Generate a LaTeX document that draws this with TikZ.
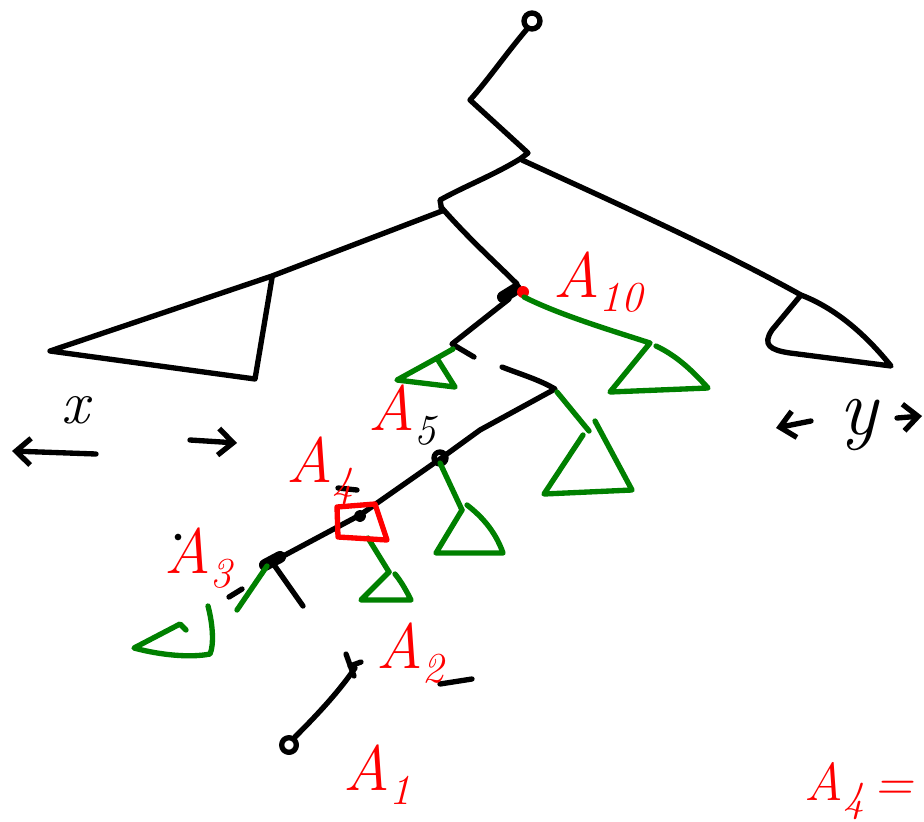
\documentclass[tikz,border=0pt]{standalone}
\usepackage{fontspec}
\usepackage{tikz}
\usetikzlibrary{arrows.meta}
\usepackage{xcolor}
\definecolor{penGreen}{RGB}{0,128,0}
\definecolor{penRed}{RGB}{255,0,0}
\newcommand{\lowsub}[1]{\raisebox{-0.22em}{\fontsize{32}{32}\selectfont #1}}

\begin{document}
\begin{tikzpicture}[x=0.75pt,y=0.75pt,yscale=-1,xscale=1,
  pen/.style={line width=4pt,line cap=round,line join=round},
  gpen/.style={pen,color=penGreen},
  rpen/.style={pen,color=penRed},
  barb/.style={pen,-{Straight Barb[length=11pt,width=20pt]}},
  lbl/.style={anchor=base west,inner sep=0pt,color=penRed,font=\fontsize{48}{48}\selectfont\itshape},
  var/.style={inner sep=0pt,font=\fontsize{46}{46}\selectfont\itshape}]
\useasboundingbox (0,0) rectangle (924,821);
\clip (0,0) rectangle (924,821);

%Root and trunk
\draw [pen] (532,21) circle (6pt);
\draw [pen] (527,29) .. controls (505,55) and (488,80) .. (470,100) -- (528,153) -- (520,159) .. controls (492,176) and (465,186) .. (440,200) -- (442,211) -- (272,276) -- (50,351) -- (255,379) -- (272,278);
%Right subtree
\draw [pen] (522,160) .. controls (620,205) and (720,250) .. (801,295) -- (772,330) .. controls (762,345) and (770,350) .. (790,353) -- (891,366) .. controls (870,340) and (840,310) .. (801,295);
%Middle branch down to A10
\draw [pen] (441,207) .. controls (470,240) and (495,262) .. (517,284);
\draw [pen,line width=9pt] (503,297) -- (516,289);
\fill [penRed] (523,292) circle (4.5pt);
\draw [pen] (509,299) -- (452,344) -- (474,357);
%Spine
\draw [pen] (502,367) .. controls (520,374) and (540,380) .. (555,389) -- (480,430) -- (440,459) -- (360,515) -- (272,562) -- (303,606);
\draw [pen] (440,458) circle (4.5pt);
\draw [pen] (360,516) circle (2.5pt);
\draw [pen,line width=9pt] (265,565) -- (280,557);

%Green subtrees
\draw [gpen] (524,297) .. controls (560,315) and (610,330) .. (650,343) -- (610,392) -- (708,388) .. controls (690,368) and (675,355) .. (656,346);
\draw [gpen] (453,349) .. controls (430,362) and (415,370) .. (397,380) -- (455,387) -- (438,360);
\draw [gpen] (557,392) -- (589,431);
\draw [gpen] (583,435) -- (544,494) -- (632,490) -- (595,421);
\draw [gpen] (440,463) -- (462,510);
\draw [gpen] (462,510) -- (436,553) -- (503,553) .. controls (495,530) and (480,515) .. (467,505);
\draw [gpen] (368,538) -- (389,572);
\draw [gpen] (389,572) -- (361,600) -- (411,600) .. controls (405,588) and (400,580) .. (395,574);
\draw [gpen] (267,566) -- (237,610);
\draw [gpen] (208,606) .. controls (213,625) and (214,645) .. (210,654) .. controls (190,658) and (160,655) .. (134,648) -- (180,624) -- (186,630);

%Red box
\draw [rpen] (337,507) -- (375,504) -- (387,540) -- (338,537) -- cycle;

%Lower node
\draw [pen] (289,745) circle (5.5pt);
\draw [pen] (295,737) .. controls (320,712) and (340,690) .. (355,668);
\draw [pen] (346,654) -- (354,676);
\draw [pen] (350,666) -- (361,662);

%Small strokes
\draw [pen] (440,684) -- (472,679);
\draw [pen] (229,597) -- (242,589);
\draw [pen] (338,488) -- (357,490);
\fill (178,537) circle (2.5pt);

%Arrows
\draw [barb] (96,454) -- (12,451);
\draw [barb] (190,440) -- (237,443);
\draw [barb] (811,421) -- (776,428);
\draw [barb] (897,418) -- (922,416);

% Text Node
\node [var] (xlab) at (75,410) {x};
% Text Node
\node [var,font=\fontsize{60}{60}\selectfont\itshape] (ylab) at (858,425) {y};
% Text Node
\node [lbl] (A10) at (553,297) {A\lowsub{10}};
% Text Node
\node [lbl] (A5) at (368,430) {A\lowsub{\color{black}5}};
% Text Node
\node [lbl] (A4) at (286,482) {A\lowsub{4}};
% Text Node
\node [lbl] (A3) at (164,573) {A\lowsub{3}};
% Text Node
\node [lbl] (A2) at (376,668) {A\lowsub{2}};
% Text Node
\node [lbl] (A1) at (343,790) {A\lowsub{1}};
% Text Node
\node [lbl,font=\fontsize{40}{40}\selectfont\itshape] (A4b) at (804,800) {A\lowsub{4}\,=};

\end{tikzpicture}
\end{document}
